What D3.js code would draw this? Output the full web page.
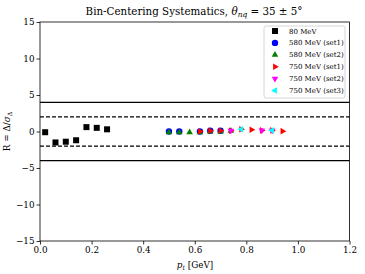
<!DOCTYPE html>
<html>
<head>
<meta charset="utf-8">
<script src="https://cdn.jsdelivr.net/npm/d3@7"></script>
<style>
  body { margin: 0; background: #fff; }
  svg { display: block; font-family: "DejaVu Serif", "Liberation Serif", serif; }
  .axis text { font-family: "DejaVu Serif", serif; font-size: 8.8px; fill: #000; }
  .axis path, .axis line { stroke: #000; stroke-width: 0.8; }
</style>
</head>
<body>
<script>
// Chart values
const xTicks = [0.0, 0.2, 0.4, 0.6, 0.8, 1.0, 1.2];
const yTicks = [-15, -10, -5, 0, 5, 10, 15];

// 80 MeV
const x80 = [0.02, 0.06, 0.10, 0.14, 0.18, 0.22, 0.26];
const y80 = [-0.1, -1.5, -1.4, -1.2, 0.6, 0.5, 0.3];
// 580 MeV (set1)
const x580a = [0.50, 0.54, 0.62, 0.66, 0.70];
const y580a = [0.0, 0.0, 0.0, 0.1, 0.1];
// 580 MeV (set2)
const x580b = [0.50, 0.54, 0.58, 0.62, 0.66, 0.70, 0.74];
const y580b = [-0.1, -0.1, -0.1, -0.1, 0.0, 0.0, 0.1];
// 750 MeV (set1)
const x750a = [0.62, 0.66, 0.70, 0.74, 0.78, 0.82, 0.86, 0.90, 0.94];
const y750a = [0.0, 0.1, 0.1, 0.1, 0.3, 0.25, 0.15, 0.15, 0.05];
// 750 MeV (set2)
const x750b = [0.74, 0.86, 0.90];
const y750b = [0.1, 0.15, 0.15];
// 750 MeV (set3)
const x750c = [0.78, 0.90];
const y750c = [0.3, 0.15];

const solidLevels = [-4, 4];
const dashLevels = [-2, 2];

const width = 365, height = 274;
const margin = {left: 40, right: 15.5, top: 22, bottom: 33};

const xScale = d3.scaleLinear().domain([0, 1.2]).range([margin.left, width - margin.right]);
const yScale = d3.scaleLinear().domain([-15, 15]).range([height - margin.bottom, margin.top]);

const svg = d3.select("body").append("svg")
    .attr("width", width)
    .attr("height", height);

// Marker shapes
const sq = d3.symbol().type(d3.symbolSquare).size(36)();
const circ = d3.symbol().type(d3.symbolCircle).size(32)();
const tri = (rot) => {
    // equilateral triangle pointing up, rotated
    const r = 3.8;
    const pts = [0, 120, 240].map(a => {
        const t = (a - 90 + rot) * Math.PI / 180;
        return [r * Math.cos(t), r * Math.sin(t)];
    });
    return "M" + pts.map(p => p.join(",")).join("L") + "Z";
};

const series = [
    {name: "80 MeV", xs: x80, ys: y80, color: "#000000", path: sq},
    {name: "580 MeV (set1)", xs: x580a, ys: y580a, color: "#0000ff", path: circ},
    {name: "580 MeV (set2)", xs: x580b, ys: y580b, color: "#008000", path: tri(0)},
    {name: "750 MeV (set1)", xs: x750a, ys: y750a, color: "#ff0000", path: tri(90)},
    {name: "750 MeV (set2)", xs: x750b, ys: y750b, color: "#ff00ff", path: tri(180)},
    {name: "750 MeV (set3)", xs: x750c, ys: y750c, color: "#00ffff", path: tri(270)}
];

//Reference lines
svg.selectAll(".solid").data(solidLevels).enter().append("line")
    .attr("x1", xScale(0)).attr("x2", xScale(1.2))
    .attr("y1", d => yScale(d)).attr("y2", d => yScale(d))
    .attr("stroke", "#000").attr("stroke-width", 1.3);

svg.selectAll(".dash").data(dashLevels).enter().append("line")
    .attr("x1", xScale(0)).attr("x2", xScale(1.2))
    .attr("y1", d => yScale(d)).attr("y2", d => yScale(d))
    .attr("stroke", "#000").attr("stroke-width", 1.1)
    .attr("stroke-dasharray", "4,2");

//Points
series.forEach(s => {
    svg.append("g").selectAll("path")
        .data(s.xs.map((x, i) => [x, s.ys[i]]))
        .enter().append("path")
        .attr("d", s.path)
        .attr("transform", d => "translate(" + xScale(d[0]) + "," + yScale(d[1]) + ")")
        .attr("fill", s.color);
});

//Axes
svg.append("g")
    .attr("class", "axis")
    .attr("transform", "translate(0," + (height - margin.bottom) + ")")
    .call(d3.axisBottom(xScale).tickValues(xTicks).tickSize(3.5).tickPadding(2)
        .tickFormat(d3.format(".1f")));

svg.append("g")
    .attr("class", "axis")
    .attr("transform", "translate(" + margin.left + ",0)")
    .call(d3.axisLeft(yScale).tickValues(yTicks).tickSize(3.5).tickPadding(2)
        .tickFormat(d => d < 0 ? "\u2212" + Math.abs(d) : d));

svg.selectAll(".axis .domain").remove();

//Frame
svg.append("rect")
    .attr("x", margin.left).attr("y", margin.top)
    .attr("width", width - margin.left - margin.right)
    .attr("height", height - margin.top - margin.bottom)
    .attr("fill", "none").attr("stroke", "#000").attr("stroke-width", 0.8);

//Legend
const legend = svg.append("g").attr("transform", "translate(264,26)");
legend.append("rect")
    .attr("width", 81).attr("height", 72).attr("rx", 2)
    .attr("fill", "#fff").attr("stroke", "#ccc").attr("stroke-width", 0.8);

series.forEach((s, i) => {
    const yy = 5 + i * 11.9;
    legend.append("path")
        .attr("d", s.path)
        .attr("transform", "translate(11," + yy + ")")
        .attr("fill", s.color);
    legend.append("text")
        .attr("x", 25).attr("y", yy + 2.5)
        .style("font-size", "7px")
        .text(s.name);
});

//Title
const title = svg.append("text")
    .attr("x", 194).attr("y", 15)
    .attr("text-anchor", "middle")
    .style("font-size", "10.3px");
title.append("tspan").text("Bin-Centering Systematics, ");
title.append("tspan").style("font-style", "italic").text("\u03b8");
title.append("tspan").style("font-style", "italic").style("font-size", "7.5px").attr("dy", 2).text("nq");
title.append("tspan").attr("dy", -2).text(" = 35 \u00b1 5\u00b0");

//X label
const xl = svg.append("text")
    .attr("x", 195).attr("y", 268)
    .attr("text-anchor", "middle")
    .style("font-size", "8.8px");
xl.append("tspan").style("font-style", "italic").text("p");
xl.append("tspan").style("font-style", "italic").style("font-size", "6.2px").attr("dy", 1.5).text("t");
xl.append("tspan").attr("dy", -1.5).text(" [GeV]");

//Y label
const yl = svg.append("text")
    .attr("transform", "translate(10," + yScale(0) + ") rotate(-90)")
    .attr("text-anchor", "middle")
    .style("font-size", "8.8px");
yl.append("tspan").text("R = \u0394/");
yl.append("tspan").style("font-style", "italic").text("\u03c3");
yl.append("tspan").style("font-size", "6.2px").attr("dy", 1.5).text("\u0394");
</script>
</body>
</html>
